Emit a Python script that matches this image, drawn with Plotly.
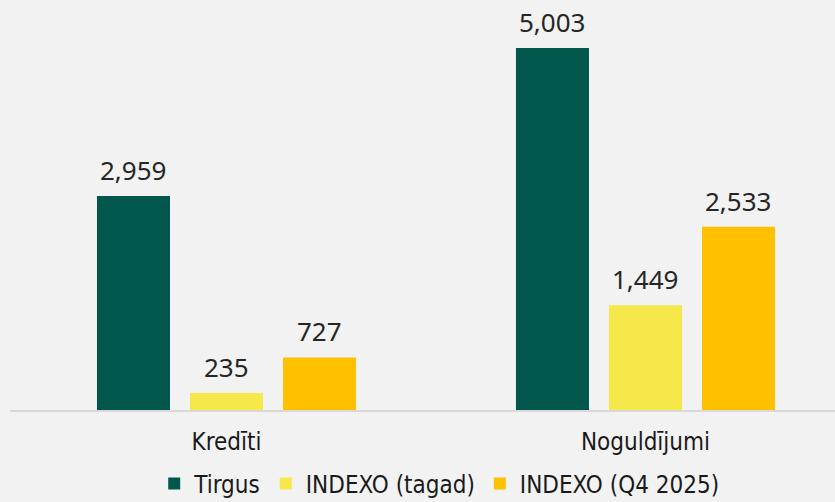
import plotly.graph_objects as go

categories = ["Kredīti", "Noguldījumi"]
series_names = ["Tirgus", "INDEXO (tagad)", "INDEXO (Q4 2025)"]
tirgus = [2959, 5003]
indexo_tagad = [235, 1449]
indexo_q4 = [727, 2533]
colors = ["#01574C", "#F6E84A", "#FFC000"]

values = [tirgus, indexo_tagad, indexo_q4]

LABEL_FONT = dict(family="Noto Sans, sans-serif", size=26, color="#262626")
NARROW = "DejaVu Sans Condensed, sans-serif"

fig = go.Figure()
annotations = []
for i, (name, vals, col) in enumerate(zip(series_names, values, colors)):
    fig.add_trace(go.Bar(
        x=categories, y=vals, name=name,
        marker=dict(color=col, line=dict(width=0)),
        cliponaxis=False,
    ))
    for cat, v in zip(categories, vals):
        annotations.append(dict(
            x=cat, y=v, xref="x", yref="y", text=f"{v:,}", showarrow=False,
            xanchor="center", yanchor="bottom", xshift=(i - 1) * 93, yshift=6,
            font=LABEL_FONT,
        ))

fig.update_layout(
    width=835, height=502,
    paper_bgcolor="#F2F2F2", plot_bgcolor="#F2F2F2",
    margin=dict(l=10, r=0, t=0, b=92),
    barmode="group", bargap=0.334, bargroupgap=0.215,
    showlegend=True,
    annotations=annotations,
    legend=dict(orientation="h", xanchor="center", x=0.526, xref="container",
                yanchor="middle", y=0.036, yref="container",
                font=dict(family=NARROW, size=24, color="#1a1a1a"),
                itemwidth=30, traceorder="normal"),
    xaxis=dict(range=[-0.5167, 1.4523], showline=True, linecolor="#D9D9D9", linewidth=2,
               showgrid=False, ticks="", ticklabelstandoff=9,
               tickfont=dict(family=NARROW, size=24, color="#1a1a1a")),
    yaxis=dict(range=[0, 5666], showgrid=False, zeroline=False, showticklabels=False, visible=False),
)

fig.write_html("out.html", config={"displayModeBar": False},
               post_script="document.body.style.margin='0';")
